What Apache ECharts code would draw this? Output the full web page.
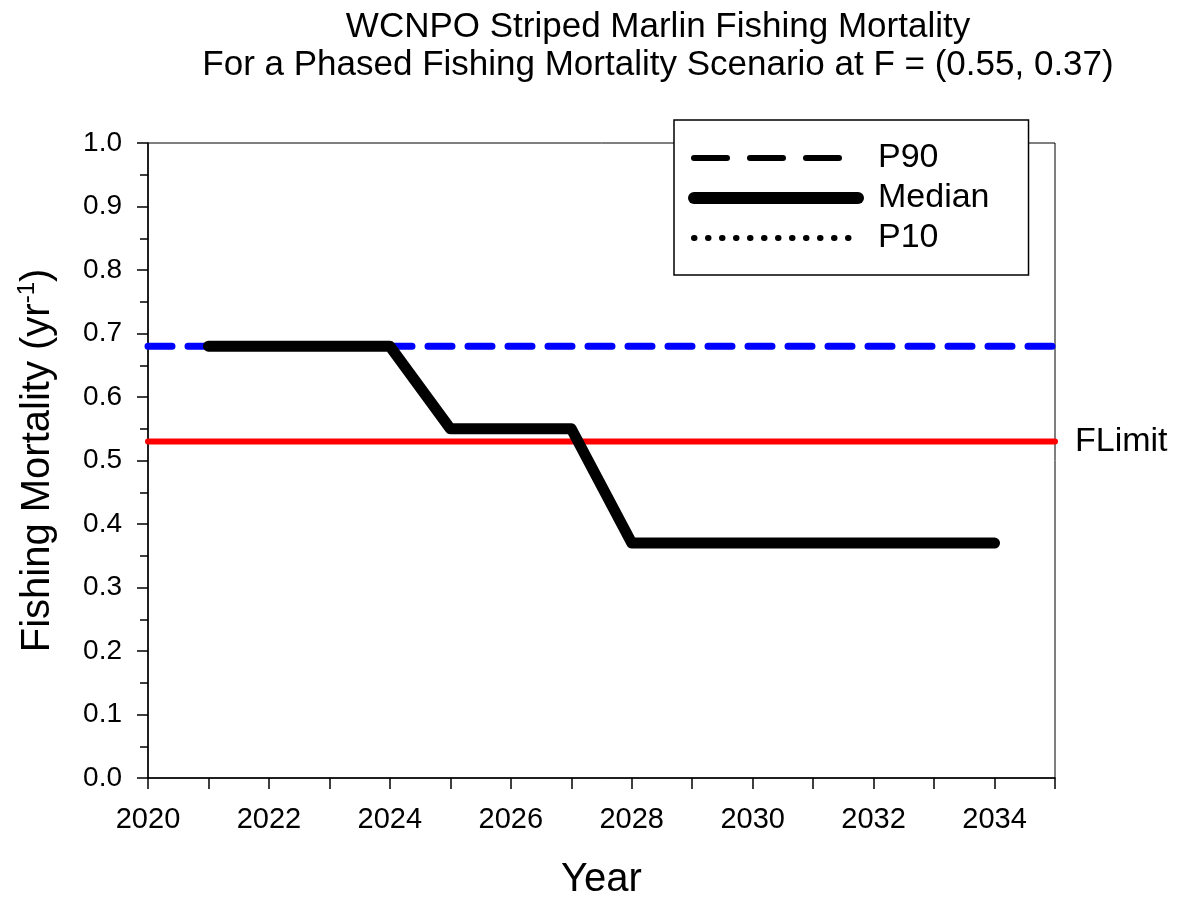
<!DOCTYPE html>
<html>
<head>
<meta charset="utf-8">
<script src="https://cdn.jsdelivr.net/npm/echarts@6/dist/echarts.min.js"></script>
<style>
  html, body { margin: 0; padding: 0; background: #fff; }
  #chart { width: 1182px; height: 898px; }
</style>
</head>
<body>
<div id="chart"></div>
<script>
const years = [2021, 2022, 2023, 2024, 2025, 2026, 2027, 2028, 2029, 2030, 2031, 2032, 2033, 2034]
const median = [0.68, 0.68, 0.68, 0.68, 0.55, 0.55, 0.55, 0.37, 0.37, 0.37, 0.37, 0.37, 0.37, 0.37]
const p90 = [0.68, 0.68, 0.68, 0.68, 0.55, 0.55, 0.55, 0.37, 0.37, 0.37, 0.37, 0.37, 0.37, 0.37]
const p10 = [0.68, 0.68, 0.68, 0.68, 0.55, 0.55, 0.55, 0.37, 0.37, 0.37, 0.37, 0.37, 0.37, 0.37]
const refYears = [2020, 2035]
const blueRef = [0.68, 0.68]
const fLimit = [0.53, 0.53]

const FONT = 'Liberation Sans, Arial, sans-serif'
const pair = (xs, ys) => xs.map((x, i) => [x, ys[i]])
const hideSymbol = { opacity: 0 }

const chart = echarts.init(document.getElementById('chart'))

chart.setOption({
  animation: false,
  backgroundColor: '#fff',
  title: {
    text: 'WCNPO Striped Marlin Fishing Mortality\nFor a Phased Fishing Mortality Scenario at F = (0.55, 0.37)',
    left: 653,
    top: 3,
    textAlign: 'center',
    textStyle: { fontFamily: FONT, fontSize: 35, fontWeight: 'normal', color: '#000', lineHeight: 38 }
  },
  grid: {
    left: 148, right: 127, top: 143, bottom: 120,
    outerBoundsMode: 'none',
    show: true, borderColor: '#000', borderWidth: 1
  },
  legend: {
    orient: 'vertical',
    left: 674, top: 120,
    padding: [21, 39, 20, 14],
    itemGap: 6,
    itemWidth: 164,
    itemHeight: 34,
    backgroundColor: '#fff',
    borderColor: '#000',
    borderWidth: 1.5,
    textStyle: { fontFamily: FONT, fontSize: 34, color: '#000', padding: [0, 0, 0, 15] },
    data: [
      { name: 'P90', itemStyle: hideSymbol, lineStyle: { color: '#000', width: 6, type: [33, 23], cap: 'round', opacity: 1 } },
      { name: 'Median', itemStyle: hideSymbol, lineStyle: { color: '#000', width: 12, cap: 'round', opacity: 1 } },
      { name: 'P10', itemStyle: hideSymbol, lineStyle: { color: '#000', width: 6, type: [0.5, 13.5], cap: 'round', opacity: 1 } }
    ]
  },
  xAxis: {
    type: 'value',
    min: 2020, max: 2035, interval: 1,
    name: 'Year',
    nameLocation: 'middle',
    nameGap: 82,
    nameTextStyle: { fontFamily: FONT, fontSize: 40, color: '#000' },
    axisLine: { lineStyle: { color: '#000', width: 1.5 } },
    axisTick: { length: 11, lineStyle: { color: '#000', width: 1.5 } },
    axisLabel: {
      fontFamily: FONT, fontSize: 29, color: '#000', margin: 27,
      formatter: v => (v % 2 === 0 && v < 2035) ? String(v) : ''
    },
    splitLine: { show: false }
  },
  yAxis: {
    type: 'value',
    min: 0, max: 1, interval: 0.1,
    name: '{a|Fishing Mortality (yr}{s|-1}{a|)}',
    nameLocation: 'middle',
    nameGap: 87,
    nameTextStyle: {
      rich: {
        a: { fontFamily: FONT, fontSize: 40, color: '#000', lineHeight: 46 },
        s: { fontFamily: FONT, fontSize: 24, color: '#000', verticalAlign: 'top', lineHeight: 32 }
      }
    },
    axisLine: { lineStyle: { color: '#000', width: 1.5 } },
    axisTick: { length: 11, lineStyle: { color: '#000', width: 1.5 } },
    minorTick: { show: true, splitNumber: 2, length: 8, lineStyle: { color: '#000', width: 1.5 } },
    axisLabel: {
      fontFamily: FONT, fontSize: 28, color: '#000', margin: 26,
      formatter: v => v.toFixed(1)
    },
    splitLine: { show: false }
  },
  series: [
    {
      name: 'FLimit',
      type: 'line',
      symbol: 'none',
      data: pair(refYears, fLimit),
      lineStyle: { color: '#ff0000', width: 6, cap: 'round' },
      endLabel: {
        show: true, formatter: 'FLimit', distance: 20,
        fontFamily: FONT, fontSize: 34, color: '#000'
      },
      z: 2
    },
    {
      name: 'P90 ref',
      type: 'line',
      symbol: 'none',
      data: pair(refYears, blueRef),
      lineStyle: { color: '#0000ff', width: 7, type: [24, 16], cap: 'round' },
      z: 2
    },
    {
      name: 'P90',
      type: 'line',
      symbol: 'none',
      data: pair(years, p90),
      lineStyle: { color: '#000', width: 5, type: [33, 23], cap: 'round' },
      itemStyle: { color: '#000' },
      z: 3
    },
    {
      name: 'P10',
      type: 'line',
      symbol: 'none',
      data: pair(years, p10),
      lineStyle: { color: '#000', width: 5, type: [0.5, 13.5], cap: 'round' },
      itemStyle: { color: '#000' },
      z: 3
    },
    {
      name: 'Median',
      type: 'line',
      symbol: 'none',
      data: pair(years, median),
      lineStyle: { color: '#000', width: 11, cap: 'round', join: 'round' },
      itemStyle: { color: '#000' },
      z: 4
    }
  ]
})
</script>
</body>
</html>
